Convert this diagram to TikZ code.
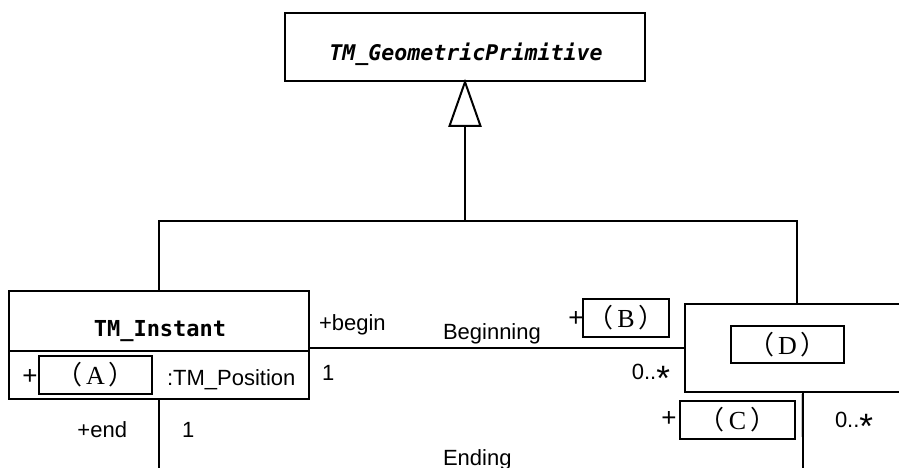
\documentclass[tikz,border=0pt]{standalone}
\usepackage{fontspec}
\usepackage{graphicx}
\setmainfont{Liberation Sans}
\setmonofont{DejaVu Sans Mono}
\newfontfamily\cjk{Noto Sans CJK JP}
\newfontfamily\romn{Liberation Serif}
% placeholder label inside a slot box, e.g. （A）
\newcommand{\slotlabel}[1]{{\cjk （}\hspace{0.15em}{\romn #1}\hspace{0.15em}{\cjk ）}}
% multiplicity with a centred asterisk
\newcommand{\many}{0..\raisebox{-0.5em}{\scalebox{1.6}{*}}}
\newcommand{\plussign}{{\fontsize{26}{28}\selectfont +}}

\begin{document}
\begin{tikzpicture}[x=1pt,y=-1pt,line width=2pt,
  box/.style={draw,rectangle,inner sep=0pt},
  lbl/.style={font=\fontsize{22}{24}\selectfont,inner sep=0pt},
  slot/.style={draw,rectangle,inner sep=0pt,font=\fontsize{26}{28}\selectfont}]
\useasboundingbox (0,0) rectangle (899,468);
\clip (0,0) rectangle (899,468);

% abstract superclass
\node[box,minimum width=360pt,minimum height=68pt] (gp) at (465,47) {};
\node[font=\ttfamily\bfseries\itshape\fontsize{21.6}{24}\selectfont,anchor=base,inner sep=0pt] (gpname) at (466,61) {TM\_GeometricPrimitive};

% generalization tree
\coordinate (hub) at (465,221);
\draw (gp.south) -- ++(-15.5,44) -- ++(31,0) -- cycle;
\draw ([yshift=-44pt]gp.south) -- (hub);

% TM_Instant class
\node[box,minimum width=300pt,minimum height=108pt] (inst) at (159,345) {};
\draw ([yshift=-6pt]inst.west) -- ([yshift=-6pt]inst.east);
\node[font=\ttfamily\bfseries\fontsize{22}{24}\selectfont,anchor=base,inner sep=0pt] (instname) at (160,336) {TM\_Instant};
\node[lbl,anchor=base] (aplus) at (30,384) {\plussign};
\node[slot,minimum width=113pt,minimum height=38pt] (A) at (95.5,375) {\slotlabel{A}};
\node[lbl,anchor=base west] (atype) at (166,385) {:TM\_Position};

% period class (D)
\node[box,minimum width=224pt,minimum height=88pt] (D) at (797,348) {};
\node[slot,minimum width=113pt,minimum height=37pt] (Dname) at (787.5,344.5) {\slotlabel{D}};

\draw (inst.north) |- (hub) -| (D.north);

% Beginning association
\draw (D.west -| inst.east) -- (D.west);
\node[lbl,anchor=base west] (rb) at (318,330) {+begin};
\node[lbl,anchor=base west] (an1) at (442,339) {Beginning};
\node[lbl,anchor=base west] (m1) at (321,380) {1};
\node[lbl,anchor=base] (bplus) at (576,326) {\plussign};
\node[slot,minimum width=86pt,minimum height=38pt] (B) at (626,318) {\slotlabel{B}};
\node[lbl,anchor=base east] (m2) at (671,379) {\many};

% Ending association
\coordinate (endL) at (159,472);
\coordinate (endR) at (803,472);
\draw (inst.south) -- (endL);
\draw ([xshift=6pt]D.south) -- (endR);
\node[lbl,anchor=base east] (re) at (128,437) {+end};
\node[lbl,anchor=base west] (m3) at (181,437) {1};
\node[lbl,anchor=base west] (an2) at (442,465) {Ending};
\node[lbl,anchor=base] (cplus) at (669,426) {\plussign};
\node[slot,minimum width=115pt,minimum height=38pt] (C) at (737.5,420) {\slotlabel{C}};
\draw[gray!45,line width=0.8pt] ([xshift=5pt,yshift=6pt]C.north east) -- ([xshift=5pt,yshift=3pt]C.south east);
\node[lbl,anchor=base west] (m4) at (834,427) {\many};
\end{tikzpicture}
\end{document}
